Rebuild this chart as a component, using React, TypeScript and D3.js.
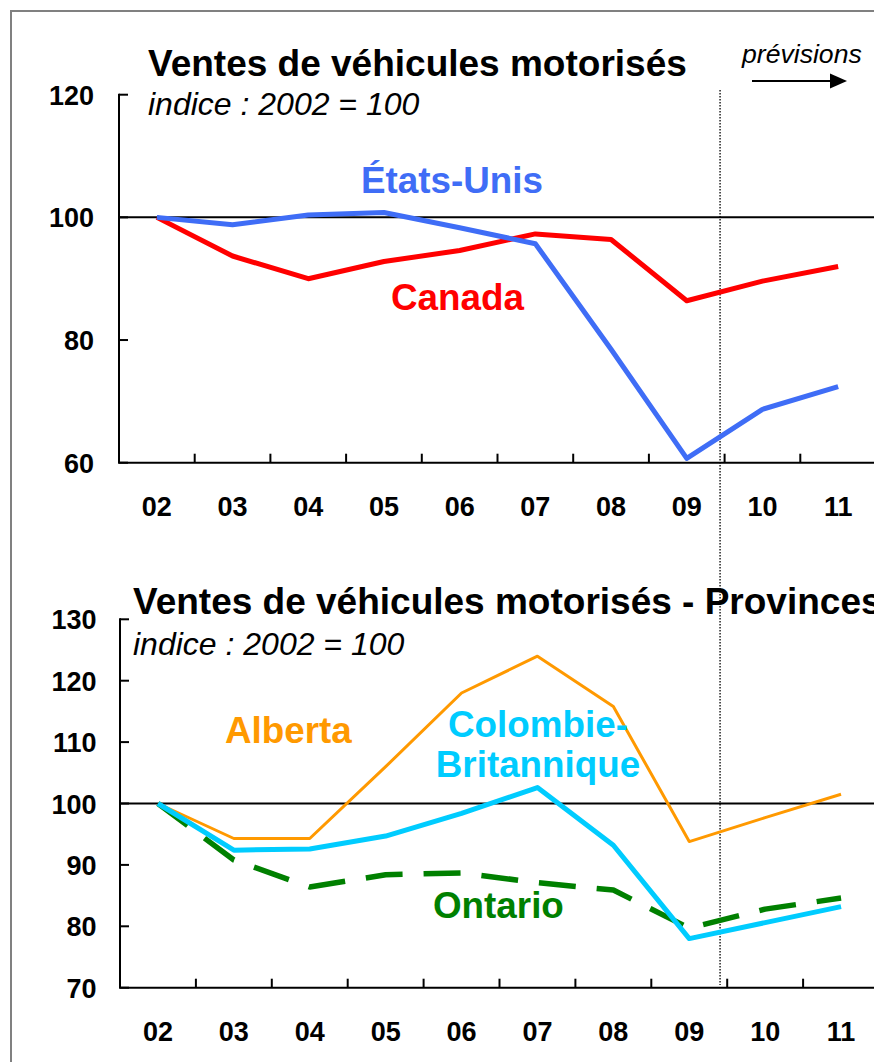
import React from "react";
import * as d3 from "d3";

const years = ["02", "03", "04", "05", "06", "07", "08", "09", "10", "11"];
const etatsUnis = [100, 98.8, 100.4, 100.8, 98.3, 95.7, 78.5, 60.7, 68.7, 72.4];
const canada = [100, 93.7, 90.0, 92.8, 94.6, 97.3, 96.4, 86.4, 89.6, 92.0];
const alberta = [100, 94.3, 94.3, 106.0, 118.0, 124.0, 115.8, 93.8, 97.7, 101.5];
const colombieBritannique = [100, 92.4, 92.6, 94.7, 98.4, 102.6, 93.2, 78.0, 80.6, 83.2];
const ontario = [100, 90.8, 86.4, 88.4, 88.7, 87.1, 85.9, 79.7, 82.8, 84.6];
const topTicks = [60, 80, 100, 120];
const bottomTicks = [70, 80, 90, 100, 110, 120, 130];

const FONT = "'Liberation Sans', Arial, Helvetica, sans-serif";
const W = 874;
const H = 1062;

type Series = { values: number[]; color: string; width: number; dash?: string };
type Label = { lines: string[]; x: number; y: number; color: string; anchor?: string };

function Panel(props: {
  x0: number;
  x1: number;
  yTop: number;
  yBottom: number;
  domain: [number, number];
  ticks: number[];
  labelRight: number;
  xLabelBaseline: number;
  series: Series[];
  labels: Label[];
}) {
  const { x0, x1, yTop, yBottom, domain, ticks, labelRight, xLabelBaseline, series, labels } = props;
  const x = d3.scaleBand<string>().domain(years).range([x0, x1]).padding(0);
  const bw = x.bandwidth();
  const cx = (c: string) => (x(c) as number) + bw / 2;
  const y = d3.scaleLinear().domain(domain).range([yBottom, yTop]);
  const line = d3
    .line<number>()
    .x((_, i) => cx(years[i]))
    .y((v) => y(v));
  return (
    <g>
      {/* reference line at 100 */}
      <line x1={x0} x2={W} y1={y(100)} y2={y(100)} stroke="#000" strokeWidth={2} />
      {/* y axis */}
      <line x1={x0} x2={x0} y1={y(domain[1]) - 1} y2={y(domain[0])} stroke="#000" strokeWidth={2} />
      {ticks.map((t) => (
        <g key={t}>
          <line x1={x0} x2={x0 + 9} y1={y(t)} y2={y(t)} stroke="#000" strokeWidth={2} />
          <text
            x={labelRight}
            y={y(t) + 10}
            textAnchor="end"
            fontFamily={FONT}
            fontWeight="bold"
            fontSize={27}
            fill="#000"
          >
            {t}
          </text>
        </g>
      ))}
      {/* x axis */}
      <line x1={x0 - 1} x2={W} y1={y(domain[0])} y2={y(domain[0])} stroke="#000" strokeWidth={2} />
      {years.slice(1).map((c) => (
        <line
          key={c}
          x1={x(c) as number}
          x2={x(c) as number}
          y1={y(domain[0])}
          y2={y(domain[0]) - 9}
          stroke="#000"
          strokeWidth={2}
        />
      ))}
      {years.map((c) => (
        <text
          key={c}
          x={cx(c)}
          y={xLabelBaseline}
          textAnchor="middle"
          fontFamily={FONT}
          fontWeight="bold"
          fontSize={27}
          fill="#000"
        >
          {c}
        </text>
      ))}
      {series.map((s, i) => (
        <path
          key={i}
          d={line(s.values) || ""}
          fill="none"
          stroke={s.color}
          strokeWidth={s.width}
          strokeDasharray={s.dash}
          strokeLinejoin="round"
        />
      ))}
      {labels.map((l, i) => (
        <text
          key={i}
          x={l.x}
          y={l.y}
          textAnchor={(l.anchor as any) || "start"}
          fontFamily={FONT}
          fontWeight="bold"
          fontSize={36.8}
          fill={l.color}
        >
          {l.lines.map((t, j) => (
            <tspan key={j} x={l.x} dy={j === 0 ? 0 : 39.5}>
              {t}
            </tspan>
          ))}
        </text>
      ))}
    </g>
  );
}

export default function App() {
  const xTop = d3.scaleBand<string>().domain(years).range([119, 876]);
  const step = xTop.step();
  const dottedX = (xTop("09") as number) + step / 2 + step * 0.44;
  return (
    <svg
      width={W}
      height={H}
      viewBox={`0 0 ${W} ${H}`}
      style={{ position: "absolute", left: 0, top: 0, background: "#fff" }}
    >
      <rect x={0} y={0} width={W} height={H} fill="#fff" />
      <rect x={11} y={11} width={W + 20} height={H + 20} fill="none" stroke="#808080" strokeWidth={2} />

      {/* Titles */}
      <text x={148} y={76} fontFamily={FONT} fontWeight="bold" fontSize={37} fill="#000">
        Ventes de véhicules motorisés
      </text>
      <text x={148} y={115} fontFamily={FONT} fontStyle="italic" fontSize={32} fill="#000">
        indice : 2002 = 100
      </text>
      <text x={133} y={614} fontFamily={FONT} fontWeight="bold" fontSize={37} fill="#000">
        Ventes de véhicules motorisés - Provinces
      </text>
      <text x={133} y={655} fontFamily={FONT} fontStyle="italic" fontSize={32} fill="#000">
        indice : 2002 = 100
      </text>

      {/* prévisions */}
      <text x={742} y={63} fontFamily={FONT} fontStyle="italic" fontSize={26.6} fill="#000">
        prévisions
      </text>
      <line x1={752} x2={834} y1={81} y2={81} stroke="#000" strokeWidth={2} />
      <path d="M 830 73.5 L 847 81 L 830 88.5 Z" fill="#000" />

      {/* forecast separator */}
      <line
        x1={dottedX}
        x2={dottedX}
        y1={90}
        y2={985}
        stroke="#000"
        strokeWidth={1.3}
        strokeDasharray="1.5 1.5"
      />

      <Panel
        x0={119}
        x1={876}
        yTop={94.7}
        yBottom={462.7}
        domain={[60, 120]}
        ticks={topTicks}
        labelRight={94}
        xLabelBaseline={516}
        series={[
          { values: canada, color: "#FF0000", width: 5 },
          { values: etatsUnis, color: "#3F6DF6", width: 5 },
        ]}
        labels={[
          { lines: ["États-Unis"], x: 361, y: 192.5, color: "#3F6DF6" },
          { lines: ["Canada"], x: 391, y: 310, color: "#FF0000" },
        ]}
      />
      <Panel
        x0={120}
        x1={879}
        yTop={619.3}
        yBottom={987.7}
        domain={[70, 130]}
        ticks={bottomTicks}
        labelRight={96.5}
        xLabelBaseline={1040.5}
        series={[
          { values: alberta, color: "#FF9900", width: 3 },
          { values: ontario, color: "#008000", width: 5.5, dash: "37 21" },
          { values: colombieBritannique, color: "#00CCFF", width: 5 },
        ]}
        labels={[
          { lines: ["Alberta"], x: 225, y: 743.3, color: "#FF9900" },
          { lines: ["Colombie-", "Britannique"], x: 538, y: 737.3, color: "#00CCFF", anchor: "middle" },
          { lines: ["Ontario"], x: 433, y: 918.3, color: "#008000" },
        ]}
      />
    </svg>
  );
}
